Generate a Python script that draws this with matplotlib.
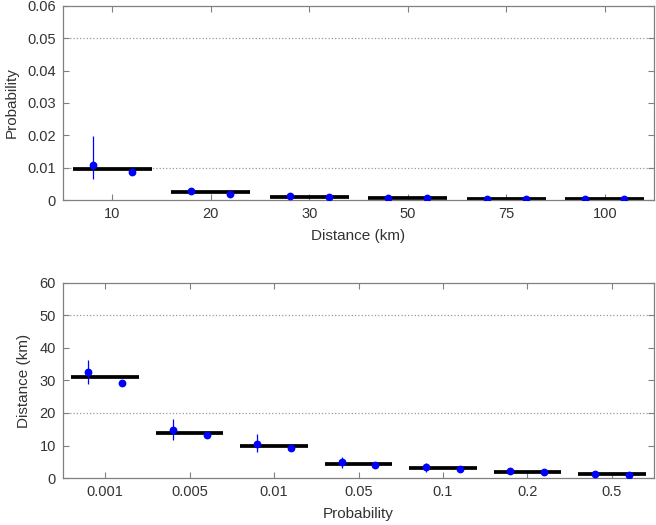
import matplotlib.pyplot as plt
import numpy as np

plt.rcParams['font.family'] = ['Liberation Sans', 'DejaVu Sans']

# top panel: probability vs distance
dist_labels = ['10', '20', '30', '50', '75', '100']
prob_bar = [0.0097, 0.0024, 0.0010, 0.0005, 0.0003, 0.0002]
prob_pt1 = [0.0108, 0.0028, 0.0012, 0.0006, 0.0003, 0.0002]
prob_lo1 = [0.0064, 0.0022, 0.0009, 0.0004, 0.0002, 0.0001]
prob_hi1 = [0.0198, 0.0034, 0.0015, 0.0008, 0.0004, 0.0003]
prob_pt2 = [0.0086, 0.0020, 0.0008, 0.0005, 0.0003, 0.0002]

# bottom panel: distance vs probability
prob_labels = ['0.001', '0.005', '0.01', '0.05', '0.1', '0.2', '0.5']
dist_bar = [31.1, 13.9, 9.8, 4.3, 3.0, 2.0, 1.1]
dist_pt1 = [32.7, 14.8, 10.5, 4.9, 3.3, 2.2, 1.1]
dist_lo1 = [29.0, 11.7, 7.9, 3.1, 2.0, 1.5, 0.8]
dist_hi1 = [36.2, 18.2, 13.4, 6.6, 4.6, 3.1, 1.6]
dist_pt2 = [29.3, 13.2, 9.3, 4.1, 2.9, 2.0, 1.0]

fig = plt.figure(figsize=(6.56, 5.25), dpi=100)
ax1 = fig.add_axes([0.096, 0.619, 0.901, 0.370])
ax2 = fig.add_axes([0.096, 0.0895, 0.901, 0.3715])

spine_col = '#808080'
txt_col = '#333333'


def draw(ax, labels, bar, pt1, lo1, hi1, pt2, ylim, yticks, ref, xlabel, ylabel, yfmt):
    x = np.arange(1, len(labels) + 1)
    for r in ref:
        ax.axhline(r, color='#999999', ls=':', lw=0.9, zorder=0)
    ax.hlines(bar, x - 0.4, x + 0.4, color='black', lw=2.7, zorder=2)
    pt1 = np.array(pt1)
    yerr = [pt1 - np.array(lo1), np.array(hi1) - pt1]
    ax.errorbar(x - 0.2, pt1, yerr=yerr, fmt='o', color='blue', ms=4.6,
                elinewidth=0.9, capsize=0, zorder=3)
    ax.plot(x + 0.2, pt2, 'o', color='blue', ms=4.6, zorder=3)
    ax.set_xlim(0.5, len(labels) + 0.5)
    ax.set_ylim(*ylim)
    ax.set_xticks(x)
    ax.set_xticklabels(labels)
    ax.set_yticks(yticks)
    ax.set_yticklabels([yfmt(v) for v in yticks])
    ax.tick_params(direction='in', top=True, right=True, length=4.5,
                   color=spine_col, labelcolor=txt_col, labelsize=10.5, pad=5)
    for s in ax.spines.values():
        s.set_color(spine_col)
        s.set_linewidth(0.9)
    ax.set_xlabel(xlabel, fontsize=11, color=txt_col, labelpad=6)
    ax.set_ylabel(ylabel, fontsize=11, color=txt_col, labelpad=6)


draw(ax1, dist_labels, prob_bar, prob_pt1, prob_lo1, prob_hi1, prob_pt2,
     (0, 0.06), np.arange(0, 0.061, 0.01), [0.01, 0.05],
     'Distance (km)', 'Probability', lambda v: '0' if v == 0 else '%.2f' % v)
draw(ax2, prob_labels, dist_bar, dist_pt1, dist_lo1, dist_hi1, dist_pt2,
     (0, 60), np.arange(0, 61, 10), [20, 50],
     'Probability', 'Distance (km)', lambda v: '%d' % v)

fig.savefig('out.png', dpi=100)
